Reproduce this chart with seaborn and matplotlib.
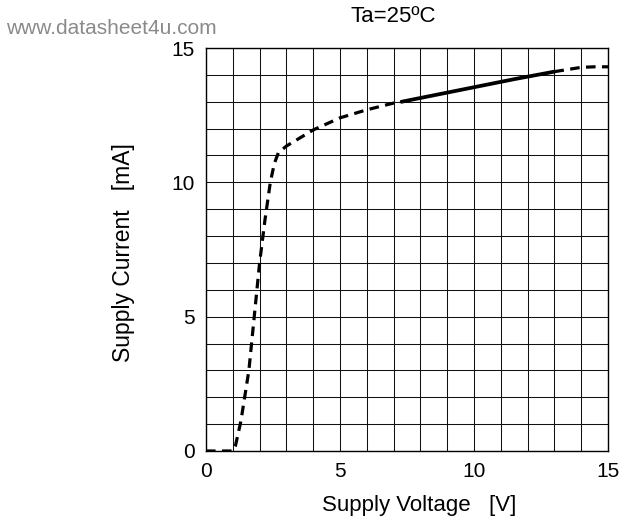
import matplotlib
matplotlib.use("Agg")
import matplotlib.pyplot as plt
import seaborn as sns
import pandas as pd

# ---- data ----
v_low = [0.0, 1.0, 1.1, 1.3, 1.6, 1.8, 2.0, 2.2, 2.4, 2.55, 2.7, 3.0, 3.5, 4.0, 5.0, 6.0, 7.0, 7.3]
i_low = [0.0, 0.0, 0.2, 1.1, 3.0, 5.0, 7.0, 8.6, 10.0, 10.7, 11.1, 11.35, 11.65, 11.95, 12.4, 12.7, 12.95, 13.0]
v_mid = [7.3, 8.4, 10.0, 11.5, 13.0]
i_mid = [13.0, 13.22, 13.54, 13.84, 14.12]
v_high = [13.0, 13.5, 14.0, 14.5, 15.0]
i_high = [14.12, 14.2, 14.28, 14.3, 14.3]

x_ticks = [0, 5, 10, 15]
y_ticks = [0, 5, 10, 15]
title = "Ta=25ºC"
xlabel = "Supply Voltage   [V]"
ylabel = "Supply Current   [mA]"
watermark = "www.datasheet4u.com"

sns.set_theme(style="white")
plt.rcParams['font.family'] = ['Liberation Sans', 'DejaVu Sans']

fig = plt.figure(figsize=(6.21, 5.22), dpi=100)
ax = fig.add_axes([206/621, 1-451/522, (608-206)/621, (451-48)/522])

df_low = pd.DataFrame({"v": v_low, "i": i_low})
df_mid = pd.DataFrame({"v": v_mid, "i": i_mid})
df_high = pd.DataFrame({"v": v_high, "i": i_high})

lw = 2.3
sns.lineplot(data=df_low, x="v", y="i", ax=ax, color="black", lw=lw, sort=False,
             estimator=None, zorder=5).lines[-1].set_dashes([3, 2])
sns.lineplot(data=df_mid, x="v", y="i", ax=ax, color="black", lw=lw + 0.4, sort=False,
             estimator=None, zorder=5)
sns.lineplot(data=df_high, x="v", y="i", ax=ax, color="black", lw=lw, sort=False,
             estimator=None, zorder=5).lines[-1].set_dashes([3, 2])

ax.set_xlim(0, 15)
ax.set_ylim(0, 15)
ax.set_xticks(range(0, 16))
ax.set_yticks(range(0, 16))
ax.set_xticklabels([str(t) if t in x_ticks else "" for t in range(0, 16)])
ax.set_yticklabels([str(t) if t in y_ticks else "" for t in range(0, 16)])
ax.grid(True, color="#111111", linewidth=0.75)
ax.tick_params(length=0, labelsize=15, colors="black", pad=8)
for s in ax.spines.values():
    s.set_color("black")
    s.set_linewidth(1.0)

ax.set_xlabel(xlabel, fontsize=16, color="black")
ax.xaxis.set_label_coords((419.5-206)/402, -(505-451)/403)
ax.xaxis.label.set_va("center")
ax.set_ylabel(ylabel, fontsize=16.5, color="black")
ax.yaxis.set_label_coords(-(206-123.5)/402, (451-253)/403)
ax.yaxis.label.set_va("center")

fig.text(393/621, 1-17/522, title, fontsize=16, ha="center", va="center", color="black")
fig.text(6/621, 1-29/522, watermark, fontsize=15, ha="left", va="center", color="#8a8a8a")

fig.savefig("out.png", dpi=100)
